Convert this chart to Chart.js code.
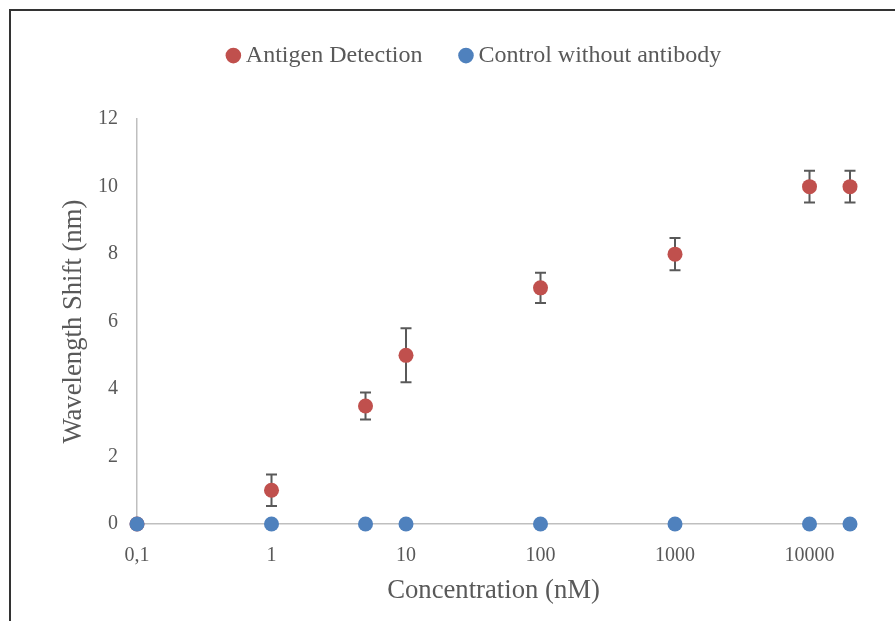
<!DOCTYPE html>
<html lang="en">
<head>
<meta charset="UTF-8" />
<title>Wavelength Shift vs Concentration</title>
<script src="https://cdn.jsdelivr.net/npm/chart.js"></script>
<style>
  html, body { margin: 0; padding: 0; background: #fff; overflow: hidden; }
  #frame { position: absolute; left: 9px; top: 9px; width: 2000px; height: 2000px;
           border-left: 2px solid #333; border-top: 2px solid #333; pointer-events: none; }
  canvas { position: absolute; left: 0; top: 0; }
</style>
</head>
<body>
<canvas id="chart" width="895" height="621"></canvas>
<div id="frame"></div>
<script>
// concentration (nM) and measured shift (nm)
const concentrations = [0.1, 1, 5, 10, 100, 1000, 10000, 20000];
const antigenShift = [0, 1, 3.5, 5, 7, 8, 10, 10];
const antigenError = [0, 0.47, 0.4, 0.8, 0.45, 0.48, 0.47, 0.47];
const controlShift = [0, 0, 0, 0, 0, 0, 0, 0];
const xTicks = [0.1, 1, 10, 100, 1000, 10000];

const FONT = "'Liberation Serif', 'Times New Roman', serif";
const TEXT = "#595959";

// error bars, drawn under the points
const errorBars = {
  id: "errorBars",
  beforeDatasetsDraw(chart) {
    const { ctx, scales: { x, y } } = chart;
    ctx.save();
    ctx.strokeStyle = "#595959";
    ctx.lineWidth = 2;
    concentrations.forEach((c, i) => {
      const e = antigenError[i];
      if (!e) return;
      const px = x.getPixelForValue(c);
      const top = y.getPixelForValue(antigenShift[i] + e);
      const bot = y.getPixelForValue(antigenShift[i] - e);
      ctx.beginPath();
      ctx.moveTo(px, top); ctx.lineTo(px, bot);
      ctx.moveTo(px - 5.5, top); ctx.lineTo(px + 5.5, top);
      ctx.moveTo(px - 5.5, bot); ctx.lineTo(px + 5.5, bot);
      ctx.stroke();
    });
    ctx.restore();
  }
};

// move legend up and centre it like the original
const legendShift = {
  id: "legendShift",
  afterLayout(chart) {
    const l = chart.legend;
    const dx = 477 - (l.left + l.right) / 2;
    l.left += dx; l.right += dx;
    l.top -= 41.6; l.bottom -= 41.6;
  }
};

new Chart(document.getElementById("chart"), {
  type: "scatter",
  data: {
    datasets: [
      {
        label: "Antigen Detection",
        data: concentrations.map((c, i) => ({ x: c, y: antigenShift[i] })),
        backgroundColor: "#c0504d",
        borderWidth: 0,
        pointRadius: 7.5,
        clip: false,
        order: 1
      },
      {
        label: "Control without antibody",
        data: concentrations.map((c, i) => ({ x: c, y: controlShift[i] })),
        backgroundColor: "#4f81bd",
        borderWidth: 0,
        pointRadius: 7.5,
        clip: false,
        order: 0
      }
    ]
  },
  options: {
    responsive: false,
    animation: false,
    layout: { padding: { left: 40, right: 45, top: 42.2, bottom: 0 } },
    plugins: {
      tooltip: { enabled: false },
      legend: {
        position: "top",
        labels: {
          usePointStyle: true,
          pointStyle: "circle",
          boxWidth: 1,
          boxHeight: 11,
          padding: 43,
          color: TEXT,
          font: { family: FONT, size: 24 },
          sort: (a, b) => a.datasetIndex - b.datasetIndex
        }
      }
    },
    scales: {
      x: {
        type: "logarithmic",
        min: 0.1,
        max: 20000,
        afterBuildTicks: (s) => { s.ticks = xTicks.map(v => ({ value: v })); },
        afterFit: (s) => { s.height = 97; },
        grid: { display: false, drawTicks: false },
        border: { display: true, color: "#bfbfbf", width: 1.5 },
        ticks: {
          padding: 20,
          color: TEXT,
          font: { family: FONT, size: 20 },
          maxRotation: 0,
          autoSkip: false,
          callback: (v) => String(v).replace(".", ",")
        },
        title: {
          display: true,
          text: "Concentration (nM)",
          color: TEXT,
          font: { family: FONT, size: 26.7 },
          padding: { top: 0, bottom: 14 }
        }
      },
      y: {
        min: 0,
        max: 12,
        afterFit: (s) => { s.width = 97; },
        grid: { display: false, drawTicks: false },
        border: { display: true, color: "#bfbfbf", width: 1.5 },
        ticks: {
          stepSize: 2,
          padding: 19,
          color: TEXT,
          font: { family: FONT, size: 20 }
        },
        title: {
          display: true,
          text: "Wavelength Shift (nm)",
          color: TEXT,
          font: { family: FONT, size: 26.7 },
          padding: { top: 18, bottom: 0 }
        }
      }
    }
  },
  plugins: [errorBars, legendShift]
});
</script>
</body>
</html>
